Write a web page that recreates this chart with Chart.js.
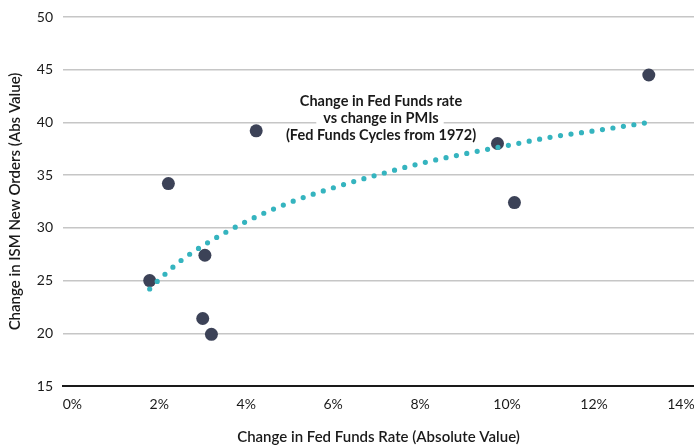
<!DOCTYPE html>
<html>
<head>
<meta charset="utf-8">
<script src="https://cdn.jsdelivr.net/npm/chart.js@4/dist/chart.umd.min.js"></script>
<style>
  html, body { margin: 0; padding: 0; background: #ffffff; }
  #wrap { width: 694px; height: 448px; position: relative; }
</style>
</head>
<body>
<div id="wrap"><canvas id="c" width="694" height="448"></canvas></div>
<script>
// Data
const fedChange = [1.78, 2.21, 3.00, 3.05, 3.20, 4.23, 9.78, 10.17, 13.26];
const ismChange = [25.0, 34.2, 21.4, 27.4, 19.9, 39.2, 38.0, 32.4, 44.5];
// Trendline (logarithmic fit)
const trendX = [1.78, 2, 2.5, 3, 4, 5, 6, 7, 8, 9, 10, 11, 12, 13.26];
const trendY = [24.2, 25.1, 26.9, 28.3, 30.6, 32.4, 33.8, 35.0, 36.1, 37.0, 37.8, 38.6, 39.2, 40.0];
const xTicks = [0, 2, 4, 6, 8, 10, 12, 14];
const yTicks = [15, 20, 25, 30, 35, 40, 45, 50];
const titleLines = ['Change in Fed Funds rate', 'vs change in PMIs', '(Fed Funds Cycles from 1972)'];
const xTitle = 'Change in Fed Funds Rate (Absolute Value)';
const yTitle = 'Change in ISM New Orders (Abs Value)';

const FONT = 'Lato, "Noto Sans", sans-serif';

const scatterPts = fedChange.map((x, i) => ({x: x, y: ismChange[i]}));
const trendPts = trendX.map((x, i) => ({x: x, y: trendY[i]}));

const titlePlugin = {
  id: 'innerTitle',
  afterDraw(chart) {
    const ctx = chart.ctx;
    ctx.save();
    ctx.font = 'bold 14.5px ' + FONT;
    ctx.textAlign = 'center';
    ctx.textBaseline = 'middle';
    const cx = 381;
    const ys = [101.5, 118.5, 135.5];
    titleLines.forEach((t, i) => {
      const w = ctx.measureText(t).width;
      ctx.fillStyle = '#ffffff';
      ctx.fillRect(cx - w / 2 - 7, ys[i] - 8.5, w + 12, 17);
      ctx.fillStyle = '#1a1a1a';
      ctx.fillText(t, cx, ys[i]);
    });
    ctx.restore();
  }
};

new Chart(document.getElementById('c'), {
  type: 'scatter',
  data: {
    datasets: [
      {
        label: 'Trend',
        data: trendPts,
        showLine: true,
        pointRadius: 0,
        pointHoverRadius: 0,
        borderColor: '#35b4bf',
        borderWidth: 5.2,
        borderDash: [0, 10.6],
        borderCapStyle: 'round',
        cubicInterpolationMode: 'monotone',
        fill: false,
        order: 0
      },
      {
        label: 'Cycles',
        data: scatterPts,
        pointRadius: 6.5,
        pointHoverRadius: 6.5,
        pointBackgroundColor: '#3c4257',
        pointBorderColor: '#3c4257',
        pointBorderWidth: 0,
        order: 1
      }
    ]
  },
  options: {
    responsive: false,
    animation: false,
    devicePixelRatio: 1,
    layout: { autoPadding: false, padding: { top: 17, right: 0, bottom: 0, left: 0 } },
    plugins: {
      legend: { display: false },
      tooltip: { enabled: false },
      title: { display: false }
    },
    scales: {
      x: {
        type: 'linear',
        min: -0.214,
        max: 14.30,
        afterBuildTicks: (axis) => { axis.ticks = xTicks.map(v => ({value: v})); },
        afterFit: (axis) => { axis.height = 62; axis.paddingLeft = 0; axis.paddingRight = 0; },
        grid: { display: false, drawTicks: false },
        border: { display: true, color: '#1a1a1a', width: 2 },
        ticks: {
          padding: 10,
          color: '#1a1a1a',
          font: { family: FONT, size: 14 },
          maxRotation: 0,
          callback: (v) => v + '%'
        },
        title: {
          display: true,
          text: xTitle,
          color: '#1a1a1a',
          font: { family: FONT, size: 15, weight: '600' },
          padding: { top: 0, bottom: 2 }
        }
      },
      y: {
        type: 'linear',
        min: 15,
        max: 50,
        afterBuildTicks: (axis) => { axis.ticks = yTicks.map(v => ({value: v})); },
        afterFit: (axis) => { axis.width = 63; axis.paddingTop = 0; axis.paddingBottom = 0; },
        grid: { color: '#c6c6c6', lineWidth: 1.5, drawTicks: false },
        border: { display: false },
        ticks: {
          padding: 10,
          color: '#1a1a1a',
          font: { family: FONT, size: 14 }
        },
        title: {
          display: true,
          text: yTitle,
          color: '#1a1a1a',
          font: { family: FONT, size: 15, weight: '600' },
          padding: { top: 6, bottom: 0 }
        }
      }
    }
  },
  plugins: [titlePlugin]
});
</script>
</body>
</html>
